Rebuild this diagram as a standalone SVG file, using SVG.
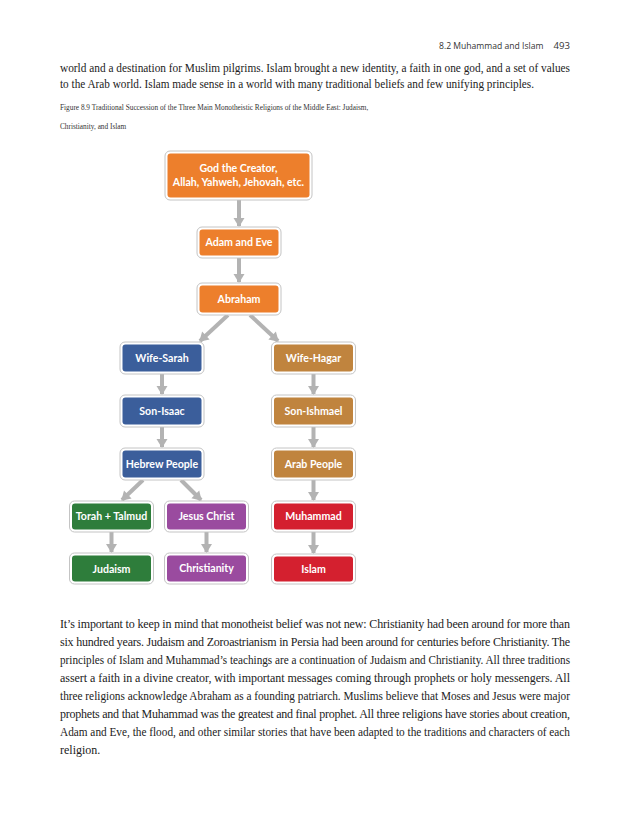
<svg xmlns="http://www.w3.org/2000/svg" width="630" height="815" viewBox="0 0 630 815">
<style>
.body{font-family:"Liberation Serif","Times New Roman",serif;font-size:12px;fill:#222}
.cap{font-family:"Liberation Serif","Times New Roman",serif;font-size:7.3px;fill:#333}
.hdr{font-family:"Open Sans","Liberation Sans",sans-serif;font-size:9.6px;fill:#333}
.lbl{font-family:Lato,"Open Sans","Liberation Sans",sans-serif;font-size:10.6px;font-weight:700;fill:#fff;text-anchor:middle}
.frame{fill:#fff;stroke:#c4c4c4;stroke-width:1}
.arr{stroke:#b3b3b3;stroke-width:4;fill:none}
.o{fill:#ED7F2C}.b{fill:#3B5E9B}.t{fill:#C0843E}.g{fill:#2E7D3B}.p{fill:#9A4B9F}.r{fill:#D4202F}
</style>
<defs>
<marker id="ah" markerWidth="12" markerHeight="12" refX="9" refY="6" orient="auto" markerUnits="userSpaceOnUse">
<path d="M1,0.5 L10,6 L1,11.5 Z" fill="#b3b3b3"/>
</marker>
</defs>
<rect width="630" height="815" fill="#fff"/>
<text class="hdr" x="439" y="49" style="font-size:8.6px">8.2 Muhammad and Islam</text>
<text class="hdr" x="570" y="49" text-anchor="end">493</text>
<text class="body" x="60" y="72" textLength="510" lengthAdjust="spacingAndGlyphs">world and a destination for Muslim pilgrims. Islam brought a new identity, a faith in one god, and a set of values</text>
<text class="body" x="60" y="88" textLength="474" lengthAdjust="spacingAndGlyphs">to the Arab world. Islam made sense in a world with many traditional beliefs and few unifying principles.</text>
<text class="cap" x="60" y="110">Figure 8.9 Traditional Succession of the Three Main Monotheistic Religions of the Middle East: Judaism,</text>
<text class="cap" x="60" y="129">Christianity, and Islam</text>

<g id="connectors">
<line class="arr" x1="239" y1="200" x2="239" y2="226" marker-end="url(#ah)"/>
<line class="arr" x1="239" y1="258" x2="239" y2="282" marker-end="url(#ah)"/>
<line class="arr" x1="228" y1="315" x2="200" y2="341" marker-end="url(#ah)"/>
<line class="arr" x1="250" y1="315" x2="278" y2="341" marker-end="url(#ah)"/>
<line class="arr" x1="162" y1="374" x2="162" y2="394" marker-end="url(#ah)"/>
<line class="arr" x1="162" y1="427" x2="162" y2="447" marker-end="url(#ah)"/>
<line class="arr" x1="143" y1="480" x2="122" y2="500" marker-end="url(#ah)"/>
<line class="arr" x1="181" y1="480" x2="201" y2="500" marker-end="url(#ah)"/>
<line class="arr" x1="111.5" y1="532" x2="111.5" y2="552" marker-end="url(#ah)"/>
<line class="arr" x1="206.5" y1="532" x2="206.5" y2="552" marker-end="url(#ah)"/>
<line class="arr" x1="313.5" y1="374" x2="313.5" y2="394" marker-end="url(#ah)"/>
<line class="arr" x1="313.5" y1="427" x2="313.5" y2="447" marker-end="url(#ah)"/>
<line class="arr" x1="313.5" y1="480" x2="313.5" y2="500" marker-end="url(#ah)"/>
<line class="arr" x1="313.5" y1="532" x2="313.5" y2="553" marker-end="url(#ah)"/>
</g>

<g id="god">
<rect class="frame" x="165" y="151" width="147" height="49" rx="5"/>
<rect class="o" x="167.5" y="153.5" width="142" height="44" rx="3"/>
<text class="lbl" x="238.5" y="172">God the Creator,</text>
<text class="lbl" x="238.5" y="186">Allah, Yahweh, Jehovah, etc.</text>
</g>
<g id="adam">
<rect class="frame" x="197" y="227" width="84" height="31" rx="5"/>
<rect class="o" x="199.5" y="229.5" width="79" height="26" rx="3"/>
<text class="lbl" x="239" y="246">Adam and Eve</text>
</g>
<g id="abraham">
<rect class="frame" x="197" y="283" width="84" height="32" rx="5"/>
<rect class="o" x="199.5" y="285.5" width="79" height="27" rx="3"/>
<text class="lbl" x="239" y="302.5">Abraham</text>
</g>
<g id="sarah">
<rect class="frame" x="120" y="342" width="84" height="32" rx="5"/>
<rect class="b" x="122.5" y="344.5" width="79" height="27" rx="3"/>
<text class="lbl" x="162" y="361.5">Wife-Sarah</text>
</g>
<g id="isaac">
<rect class="frame" x="120" y="395" width="84" height="32" rx="5"/>
<rect class="b" x="122.5" y="397.5" width="79" height="27" rx="3"/>
<text class="lbl" x="162" y="414.5">Son-Isaac</text>
</g>
<g id="hebrew">
<rect class="frame" x="120" y="448" width="84" height="32" rx="5"/>
<rect class="b" x="122.5" y="450.5" width="79" height="27" rx="3"/>
<text class="lbl" x="162" y="467.5">Hebrew People</text>
</g>
<g id="torah">
<rect class="frame" x="69.5" y="501" width="84" height="31" rx="5"/>
<rect class="g" x="72" y="503.5" width="79" height="26" rx="3"/>
<text class="lbl" x="111.5" y="520">Torah + Talmud</text>
</g>
<g id="judaism">
<rect class="frame" x="69.5" y="553" width="84" height="31" rx="5"/>
<rect class="g" x="72" y="555.5" width="79" height="26" rx="3"/>
<text class="lbl" x="111.5" y="572.5">Judaism</text>
</g>
<g id="jesus">
<rect class="frame" x="164.5" y="501" width="84" height="31" rx="5"/>
<rect class="p" x="167" y="503.5" width="79" height="26" rx="3"/>
<text class="lbl" x="206.5" y="520">Jesus Christ</text>
</g>
<g id="christianity">
<rect class="frame" x="164.5" y="553" width="84" height="31" rx="5"/>
<rect class="p" x="167" y="555.5" width="79" height="26" rx="3"/>
<text class="lbl" x="206.5" y="571.5">Christianity</text>
</g>
<g id="hagar">
<rect class="frame" x="271.5" y="342" width="84" height="32" rx="5"/>
<rect class="t" x="274" y="344.5" width="79" height="27" rx="3"/>
<text class="lbl" x="313.5" y="361.5">Wife-Hagar</text>
</g>
<g id="ishmael">
<rect class="frame" x="271.5" y="395" width="84" height="32" rx="5"/>
<rect class="t" x="274" y="397.5" width="79" height="27" rx="3"/>
<text class="lbl" x="313.5" y="414.5">Son-Ishmael</text>
</g>
<g id="arab">
<rect class="frame" x="271.5" y="448" width="84" height="32" rx="5"/>
<rect class="t" x="274" y="450.5" width="79" height="27" rx="3"/>
<text class="lbl" x="313.5" y="467.5">Arab People</text>
</g>
<g id="muhammad">
<rect class="frame" x="271.5" y="501" width="84" height="31" rx="5"/>
<rect class="r" x="274" y="503.5" width="79" height="26" rx="3"/>
<text class="lbl" x="313.5" y="520">Muhammad</text>
</g>
<g id="islam">
<rect class="frame" x="271.5" y="554" width="84" height="30" rx="5"/>
<rect class="r" x="274" y="556.5" width="79" height="25" rx="3"/>
<text class="lbl" x="313.5" y="573">Islam</text>
</g>

<text class="body" x="60" y="628" textLength="510" lengthAdjust="spacing">It’s important to keep in mind that monotheist belief was not new: Christianity had been around for more than</text>
<text class="body" x="60" y="646" textLength="510" lengthAdjust="spacing">six hundred years. Judaism and Zoroastrianism in Persia had been around for centuries before Christianity. The</text>
<text class="body" x="60" y="664" textLength="510" lengthAdjust="spacingAndGlyphs">principles of Islam and Muhammad’s teachings are a continuation of Judaism and Christianity. All three traditions</text>
<text class="body" x="60" y="682" textLength="510" lengthAdjust="spacing">assert a faith in a divine creator, with important messages coming through prophets or holy messengers. All</text>
<text class="body" x="60" y="700" textLength="510" lengthAdjust="spacingAndGlyphs">three religions acknowledge Abraham as a founding patriarch. Muslims believe that Moses and Jesus were major</text>
<text class="body" x="60" y="718" textLength="510" lengthAdjust="spacing">prophets and that Muhammad was the greatest and final prophet. All three religions have stories about creation,</text>
<text class="body" x="60" y="736" textLength="510" lengthAdjust="spacingAndGlyphs">Adam and Eve, the flood, and other similar stories that have been adapted to the traditions and characters of each</text>
<text class="body" x="60" y="754">religion.</text>
</svg>
